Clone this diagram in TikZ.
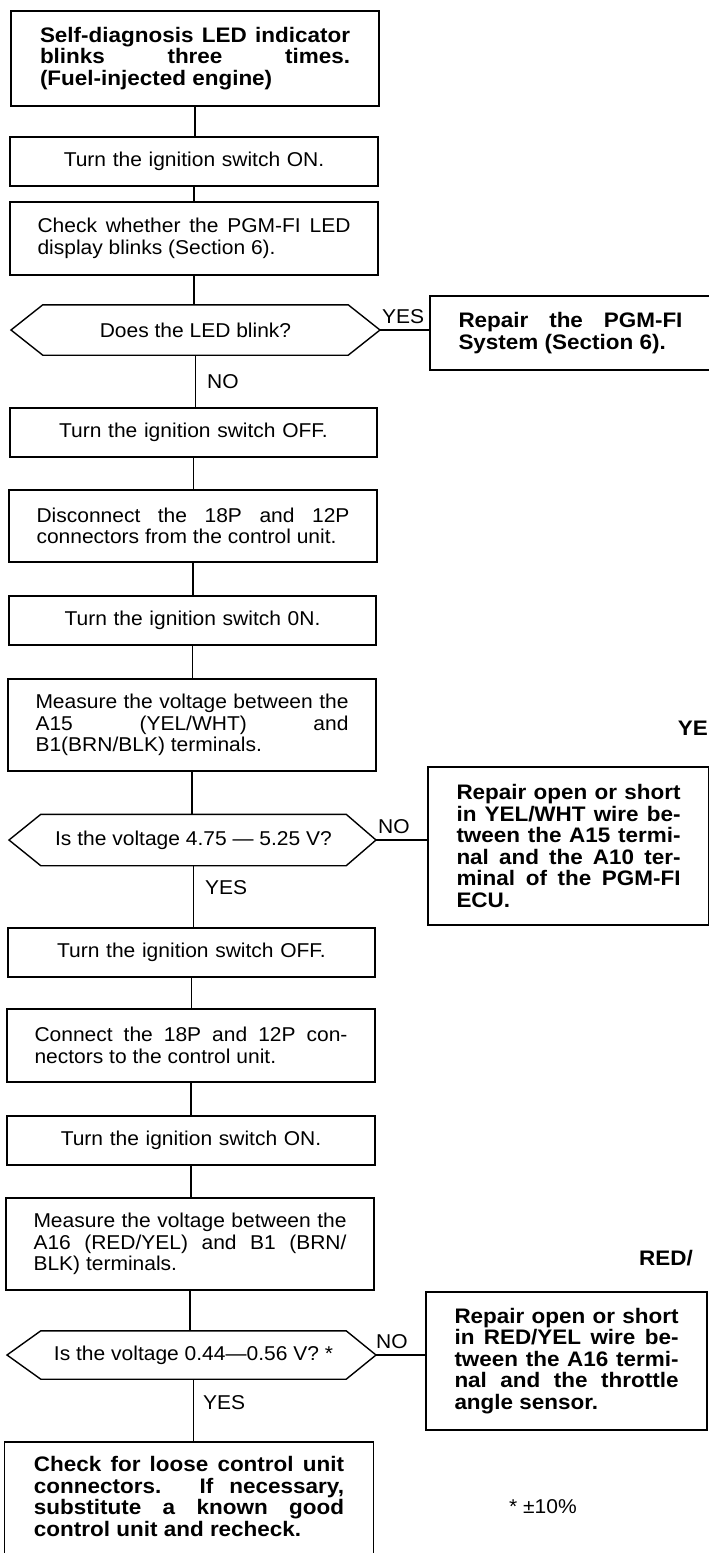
\documentclass[tikz,border=0pt]{standalone}
\usepackage{fontspec}
\setmainfont{Liberation Sans}[FakeStretch=1.05]
\newfontfamily\bfam{Liberation Sans}[FakeStretch=1.07]
\newcommand\regtxt{\fontsize{20}{21.5}\selectfont}
\newcommand\boldtxt{\bfam\bfseries\fontsize{21}{21.5}\selectfont}
\begin{document}
\begin{tikzpicture}[x=1pt,y=-1pt,
  justset/.style={execute at begin node={\tolerance=10000 \hyphenpenalty=10000 \exhyphenpenalty=10000 \hbadness=10000 }},
  lbox/.style={draw, line width=1.4pt, minimum width=368pt, text width=313pt,
    inner xsep=0pt, inner ysep=0pt, align=justify, font=\regtxt, justset},
  lboxc/.style={lbox, align=center},
  bbox/.style={lbox, font=\boldtxt},
  rbox/.style={draw, line width=1.4pt, minimum width=281pt, text width=224pt,
    inner xsep=0pt, inner ysep=0pt, align=justify, font=\boldtxt, justset},
  dnode/.style={minimum width=305pt, inner sep=0pt, font=\regtxt},
  dshape/.style={draw, line width=1.4pt, line join=miter},
  conn/.style={draw, line width=1.2pt},
  lbl/.style={inner sep=0pt, anchor=west, font=\regtxt},
  blbl/.style={inner sep=0pt, anchor=west, font=\boldtxt}
]
\useasboundingbox (0,0) rectangle (709,1553);
\clip (0,0) rectangle (709,1553);

% left column
\node[bbox, text width=310pt, minimum height=95pt] (b1) at (195,58.5)
  {Self-diagnosis LED indicator\linebreak blinks three times.\linebreak (Fuel-injected engine)};
\node[lboxc, minimum height=49pt] (b2) at (194,161.5) {Turn the ignition switch ON.};
\node[lbox, minimum height=73pt] (b3) at (194,238.5)
  {Check whether the PGM-FI LED\linebreak display blinks (Section 6).};

\node[dnode, minimum height=50pt] (d1) at (195.5,330) {Does the LED blink?};
\coordinate (d1l) at (11,330);
\coordinate (d1r) at (380,330);
\draw[dshape] (d1.north west) -- (d1.north east) -- (d1r) -- (d1.south east) -- (d1.south west) -- (d1l) -- cycle;

\node[rbox, minimum height=74pt] (r1) at (570.5,333)
  {Repair the PGM-FI\linebreak System (Section 6).};

\node[lboxc, minimum width=367pt, minimum height=49pt] (b4) at (193.5,432.5) {Turn the ignition switch OFF.};
\node[lbox, minimum height=72pt] (b5) at (193,526)
  {Disconnect the 18P and 12P\linebreak connectors from the control unit.};
\node[lboxc, minimum width=367pt, minimum height=49pt] (b6) at (192.5,620.5) {Turn the ignition switch 0N.};
\node[lbox, minimum height=92pt] (b7) at (192,725)
  {Measure the voltage between the\linebreak A15 (YEL/WHT) and\linebreak B1(BRN/BLK) terminals.};

\node[dnode, minimum height=51pt] (d2) at (193.5,840) {Is the voltage 4.75 --- 5.25 V?};
\coordinate (d2l) at (9,840);
\coordinate (d2r) at (376,840);
\draw[dshape] (d2.north west) -- (d2.north east) -- (d2r) -- (d2.south east) -- (d2.south west) -- (d2l) -- cycle;

\node[rbox, minimum height=158pt] (r2) at (568.5,846)
  {Repair open or short\linebreak in YEL/WHT wire be-\linebreak tween the A15 termi-\linebreak nal and the A10 ter-\linebreak minal of the PGM-FI\linebreak ECU.};

\node[lboxc, minimum width=367pt, minimum height=49pt] (b8) at (191.5,952.5) {Turn the ignition switch OFF.};
\node[lbox, minimum height=73pt] (b9) at (191,1045.5)
  {Connect the 18P and 12P con-\linebreak nectors to the control unit.};
\node[lboxc, minimum height=49pt] (b10) at (191,1140.5) {Turn the ignition switch ON.};
\node[lbox, minimum height=92pt] (b11) at (190,1244)
  {Measure the voltage between the\linebreak A16 (RED/YEL) and B1 (BRN/\linebreak BLK) terminals.};

\node[dnode, minimum height=48pt] (d3) at (193.5,1355) {Is the voltage 0.44---0.56 V? *};
\coordinate (d3l) at (7,1355);
\coordinate (d3r) at (376,1355);
\draw[dshape] (d3.north west) -- (d3.north east) -- (d3r) -- (d3.south east) -- (d3.south west) -- (d3l) -- cycle;

\node[rbox, minimum height=138pt] (r3) at (566.5,1361)
  {Repair open or short\linebreak in RED/YEL wire be-\linebreak tween the A16 termi-\linebreak nal and the throttle\linebreak angle sensor.};

\node[lbox, draw=none, font=\boldtxt, text width=310pt, anchor=north, inner ysep=14pt] (b12) at (189,1442)
  {Check for loose control unit\linebreak connectors. If necessary,\linebreak substitute a known good\linebreak control unit and recheck.};
\draw[line width=1.4pt] ([yshift=-160pt]b12.north west) -- (b12.north west) -- (b12.north east) -- ([yshift=-160pt]b12.north east);

% connectors
\draw[conn] (b1.south) -- (b1.south |- b2.north);
\draw[conn] (b2.south) -- (b2.south |- b3.north);
\draw[conn] (b3.south) -- (b3.south |- d1.north);
\draw[conn] (d1.south) -- (d1.south |- b4.north);
\draw[conn] (d1r) -- (d1r -| r1.west);
\draw[conn] (b4.south) -- (b4.south |- b5.north);
\draw[conn] (b5.south) -- (b5.south |- b6.north);
\draw[conn] (b6.south) -- (b6.south |- b7.north);
\draw[conn] (b7.south) -- (b7.south |- d2.north);
\draw[conn] (d2.south) -- (d2.south |- b8.north);
\draw[conn] (d2r) -- (d2r -| r2.west);
\draw[conn] (b8.south) -- (b8.south |- b9.north);
\draw[conn] (b9.south) -- (b9.south |- b10.north);
\draw[conn] (b10.south) -- (b10.south |- b11.north);
\draw[conn] (b11.south) -- (b11.south |- d3.north);
\draw[conn] (d3.south) -- (d3.south |- b12.north);
\draw[conn] (d3r) -- (d3r -| r3.west);

% labels
\node[lbl] (yes1) at (382,317) {YES};
\node[lbl] (no1) at (207,382) {NO};
\node[lbl] (no2) at (378,827) {NO};
\node[lbl] (yes2) at (205,888) {YES};
\node[lbl] (no3) at (376,1342) {NO};
\node[lbl] (yes3) at (203,1403) {YES};
\node[blbl, anchor=east] (ye) at (708,728) {YE};
\node[blbl] (red) at (639,1258) {RED/};
\node[lbl] (tol) at (509,1507) {* ±10\%};
\end{tikzpicture}
\end{document}
